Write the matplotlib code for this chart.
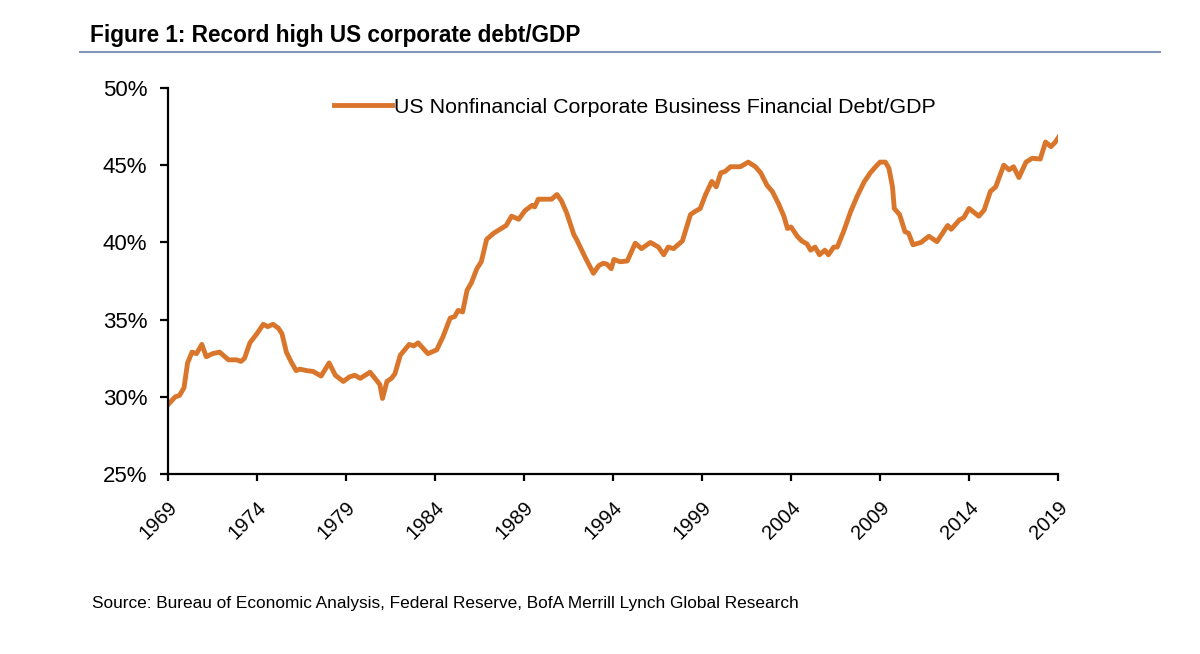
import matplotlib.pyplot as plt
from matplotlib.lines import Line2D
from matplotlib.ticker import FuncFormatter

plt.rcParams['font.family'] = ['Liberation Sans', 'DejaVu Sans']

title = "Figure 1: Record high US corporate debt/GDP"
series_name = "US Nonfinancial Corporate Business Financial Debt/GDP"
source = "Source: Bureau of Economic Analysis, Federal Reserve, BofA Merrill Lynch Global Research"

# values (year, % of GDP)
years = [1969.0, 1969.4, 1969.65, 1969.9, 1970.1, 1970.35, 1970.6, 1970.9, 1971.15, 1971.5,
         1971.9, 1972.4, 1972.85, 1973.1, 1973.3, 1973.6, 1974.0, 1974.35, 1974.6, 1974.9,
         1975.2, 1975.4, 1975.65, 1975.95, 1976.2, 1976.4, 1976.8, 1977.15, 1977.6, 1978.05,
         1978.4, 1978.85, 1979.2, 1979.5, 1979.8, 1980.35, 1980.7, 1980.9, 1981.05, 1981.3,
         1981.55, 1981.75, 1982.05, 1982.55, 1982.8, 1983.05, 1983.6, 1984.1, 1984.45, 1984.85,
         1985.1, 1985.3, 1985.55, 1985.8, 1986.05, 1986.35, 1986.6, 1986.9, 1987.3, 1987.65,
         1988.0, 1988.3, 1988.7, 1989.05, 1989.45, 1989.6, 1989.8, 1990.3, 1990.55, 1990.85,
         1991.1, 1991.4, 1991.8, 1991.95, 1992.45, 1992.9, 1993.2, 1993.45, 1993.65, 1993.9,
         1994.05, 1994.4, 1994.8, 1995.25, 1995.6, 1996.1, 1996.55, 1996.85, 1997.1, 1997.4,
         1997.9, 1998.35, 1998.6, 1998.9, 1999.2, 1999.55, 1999.8, 2000.05, 2000.3, 2000.6,
         2001.15, 2001.6, 2002.0, 2002.3, 2002.65, 2002.95, 2003.3, 2003.6, 2003.8, 2004.0,
         2004.35, 2004.6, 2004.9, 2005.1, 2005.35, 2005.6, 2005.9, 2006.1, 2006.4, 2006.6,
         2006.95, 2007.35, 2007.7, 2008.1, 2008.45, 2008.75, 2009.0, 2009.3, 2009.5, 2009.7,
         2009.8, 2010.1, 2010.4, 2010.6, 2010.85, 2011.3, 2011.75, 2012.2, 2012.8, 2013.0,
         2013.45, 2013.7, 2014.0, 2014.55, 2014.85, 2015.2, 2015.5, 2015.95, 2016.25, 2016.5,
         2016.8, 2017.2, 2017.55, 2018.0, 2018.3, 2018.6, 2018.85, 2019.05]
debt_gdp = [29.5, 30.0, 30.1, 30.6, 32.2, 32.9, 32.8, 33.4, 32.6, 32.8,
            32.9, 32.4, 32.4, 32.3, 32.5, 33.5, 34.1, 34.7, 34.55, 34.7,
            34.45, 34.1, 32.9, 32.2, 31.7, 31.8, 31.7, 31.65, 31.35, 32.2,
            31.4, 31.0, 31.3, 31.4, 31.2, 31.6, 31.1, 30.8, 29.9, 31.0,
            31.2, 31.5, 32.7, 33.4, 33.3, 33.5, 32.8, 33.05, 33.9, 35.1,
            35.2, 35.6, 35.5, 36.9, 37.4, 38.3, 38.75, 40.2, 40.6, 40.85,
            41.1, 41.7, 41.5, 42.05, 42.4, 42.3, 42.8, 42.8, 42.8, 43.1,
            42.7, 41.9, 40.5, 40.2, 39.0, 38.0, 38.5, 38.65, 38.6, 38.3,
            38.9, 38.75, 38.8, 39.95, 39.6, 40.0, 39.7, 39.2, 39.7, 39.6,
            40.1, 41.8, 42.0, 42.2, 43.1, 43.95, 43.6, 44.5, 44.6, 44.9,
            44.9, 45.2, 44.9, 44.5, 43.7, 43.3, 42.5, 41.7, 40.9, 41.0,
            40.4, 40.1, 39.9, 39.5, 39.7, 39.2, 39.5, 39.2, 39.7, 39.7,
            40.7, 42.0, 42.95, 43.9, 44.5, 44.9, 45.2, 45.2, 44.8, 43.6,
            42.2, 41.8, 40.7, 40.6, 39.85, 40.0, 40.4, 40.05, 41.1, 40.85,
            41.45, 41.6, 42.2, 41.7, 42.1, 43.3, 43.6, 45.0, 44.7, 44.9,
            44.2, 45.2, 45.45, 45.4, 46.5, 46.2, 46.5, 46.85]

xticks = [1969, 1974, 1979, 1984, 1989, 1994, 1999, 2004, 2009, 2014, 2019]
yticks = [25, 30, 35, 40, 45, 50]

orange = '#D9762B'

fig = plt.figure(figsize=(12, 6.54), dpi=100)
ax = fig.add_axes([0.14, 0.275, 0.7417, 0.5905])

ax.plot(years, debt_gdp, color=orange, lw=3.5, solid_joinstyle='round')
ax.set_xlim(1969, 2019)
ax.set_ylim(25, 50)
ax.set_xticks(xticks)
ax.set_yticks(yticks)
ax.yaxis.set_major_formatter(FuncFormatter(lambda v, p: f"{v:.0f}%"))
for s in ['top', 'right']:
    ax.spines[s].set_visible(False)
for s in ['left', 'bottom']:
    ax.spines[s].set_linewidth(1.6)
ax.tick_params(axis='y', length=6, width=1.6, labelsize=16, pad=9)
ax.tick_params(axis='x', length=5, width=1.6, labelsize=14.5, pad=12)
plt.setp(ax.get_xticklabels(), rotation=45, ha='right', rotation_mode='anchor')

handle = Line2D([], [], color=orange, lw=3.5)
ax.legend([handle], [series_name], loc='upper left', bbox_to_anchor=(0.165, 1.025),
          frameon=False, fontsize=15.4, handlelength=2.7, handletextpad=0.1)

fig.text(0.075, 0.946, title, fontsize=16.3, fontweight='bold', va='center')
fig.add_artist(Line2D([0.067, 0.967], [0.921, 0.921], color='#8496B8', lw=1.5))
fig.text(0.077, 0.077, source, fontsize=12.4, va='center')

fig.savefig('out.png', dpi=100)
